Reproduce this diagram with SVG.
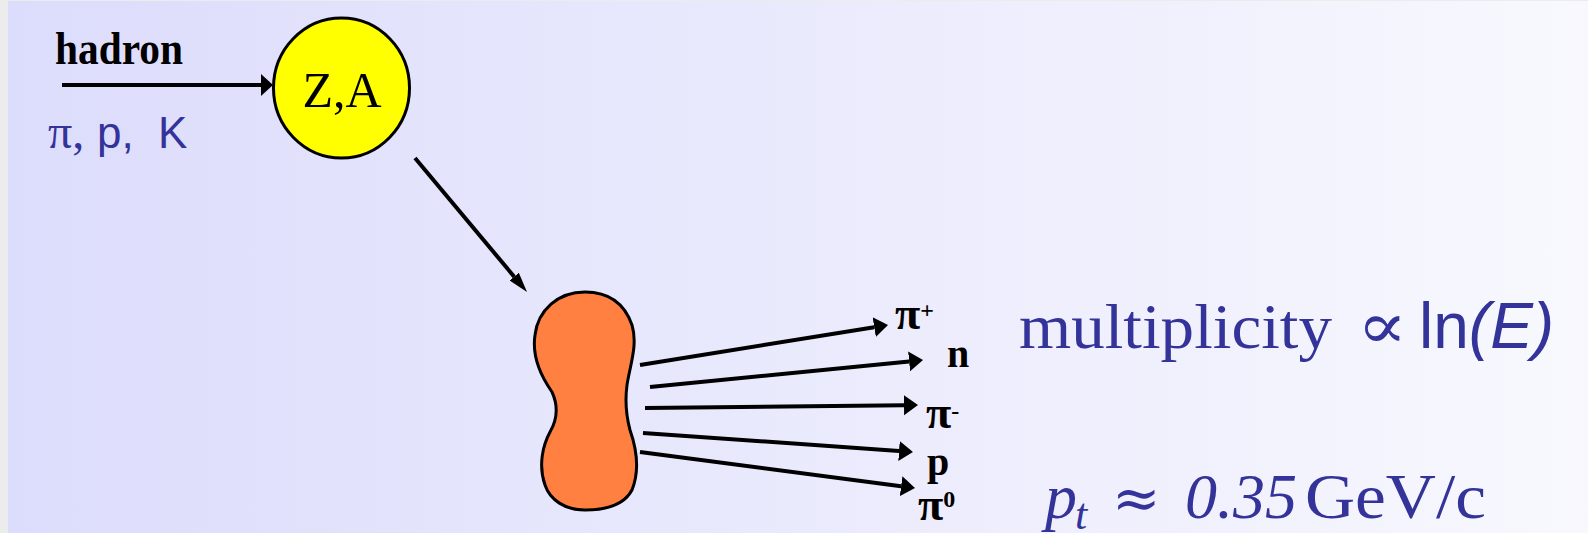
<svg xmlns="http://www.w3.org/2000/svg" width="1588" height="533" viewBox="0 0 1588 533">
  <defs>
    <linearGradient id="bg" x1="0" y1="0" x2="1" y2="0">
      <stop offset="0" stop-color="#dcdcfc"/>
      <stop offset="1" stop-color="#f8f8fe"/>
    </linearGradient>
    <marker id="head" markerUnits="userSpaceOnUse" markerWidth="16" markerHeight="22" refX="0" refY="10" orient="auto" viewBox="0 0 16 20">
      <path d="M0,0 L14,10 L0,20 z" fill="#000"/>
    </marker>
    <marker id="headIn" markerUnits="userSpaceOnUse" markerWidth="14" markerHeight="22" refX="0" refY="11" orient="auto" viewBox="0 0 14 22">
      <path d="M0,0 L12,11 L0,22 z" fill="#000"/>
    </marker>
    <marker id="headNarrow" markerUnits="userSpaceOnUse" markerWidth="20" markerHeight="14" refX="0" refY="6" orient="auto" viewBox="0 0 20 12">
      <path d="M0,0 L20,6 L0,12 z" fill="#000"/>
    </marker>
  </defs>
  <style>
    .conn { stroke: #000; stroke-width: 4; fill: none; }
    .lbl { font-family: "Liberation Serif", "DejaVu Serif", serif; font-weight: bold; fill: #000; font-size: 40px; }
    .pi { font-size: 46px; }
    .blue { fill: #333399; }
    .serif { font-family: "Liberation Serif", "DejaVu Serif", serif; }
    .sans { font-family: "Liberation Sans", Arial, sans-serif; }
  </style>

  <rect x="0" y="0" width="1588" height="533" fill="#ececec"/>
  <rect x="8" y="1" width="1580" height="532" fill="url(#bg)"/>

  <g id="connectors">
    <line class="conn" x1="62" y1="85" x2="261" y2="85" marker-end="url(#headIn)"/>
    <line class="conn" x1="415" y1="158" x2="514.2" y2="276.7" stroke-width="3.5" marker-end="url(#headNarrow)"/>
    <line class="conn" x1="640" y1="365" x2="874.2" y2="327.2" marker-end="url(#head)"/>
    <line class="conn" x1="650" y1="387" x2="909.1" y2="361.4" marker-end="url(#head)"/>
    <line class="conn" x1="645" y1="408" x2="904" y2="405.2" marker-end="url(#head)"/>
    <line class="conn" x1="643" y1="433" x2="899" y2="451" marker-end="url(#head)"/>
    <line class="conn" x1="640" y1="452" x2="901.1" y2="486.2" marker-end="url(#head)"/>
  </g>

  <g id="hadron">
    <text class="serif" x="55" y="64" font-size="46" font-weight="bold" fill="#000" textLength="128" lengthAdjust="spacingAndGlyphs">hadron</text>
    <text class="sans blue" y="148" font-size="44"><tspan class="serif" x="48" font-size="48">π,</tspan><tspan x="97">p,</tspan><tspan x="158">K</tspan></text>
  </g>

  <g id="nucleus">
    <ellipse cx="341.5" cy="88" rx="68" ry="70" fill="#ffff00" stroke="#000" stroke-width="3"/>
    <text class="serif" x="342" y="107" font-size="50" text-anchor="middle" fill="#000">Z,A</text>
  </g>

  <g id="fireball">
    <path d="M585,292 C610,292 625,305 632,325 C638,345 630,365 627,385 C625,400 626,415 630,430 C637,450 640,470 632,490 C624,505 605,510 585,510 C565,510 550,500 545,485 C538,465 543,445 550,432 C558,418 558,405 552,392 C540,375 532,355 535,335 C538,310 558,292 585,292 Z" fill="#ff8040" stroke="#000" stroke-width="3"/>
  </g>

  <g id="products">
    <text class="lbl" x="895" y="329"><tspan class="pi">π</tspan><tspan font-size="24" dy="-11">+</tspan></text>
    <text class="lbl" x="947" y="367">n</text>
    <text class="lbl" x="926" y="428"><tspan class="pi">π</tspan><tspan font-size="24" dy="-9">-</tspan></text>
    <text class="lbl" x="927" y="475">p</text>
    <text class="lbl" x="918" y="520"><tspan class="pi">π</tspan><tspan font-size="24" dy="-13">0</tspan></text>
  </g>

  <g id="multiplicity">
    <text class="blue" y="348" font-size="64"><tspan class="serif" x="1019" textLength="313" lengthAdjust="spacingAndGlyphs">multiplicity</tspan><tspan class="sans" x="1419">ln</tspan><tspan class="sans" font-style="italic">(E)</tspan></text>
    <text class="blue" transform="translate(1357,348) scale(1.2,1.05)" font-family="DejaVu Serif, serif" font-size="62">∝</text>
  </g>

  <g id="pt">
    <text class="serif blue" y="518" font-size="64"><tspan x="1045" font-style="italic">p</tspan><tspan x="1075" y="529" font-size="44" font-style="italic">t</tspan><tspan x="1112" y="518" font-family="DejaVu Serif, serif" font-size="58">≈</tspan><tspan x="1185" font-style="italic">0.35</tspan><tspan x="1305" textLength="181" lengthAdjust="spacingAndGlyphs">GeV/c</tspan></text>
  </g>
</svg>
